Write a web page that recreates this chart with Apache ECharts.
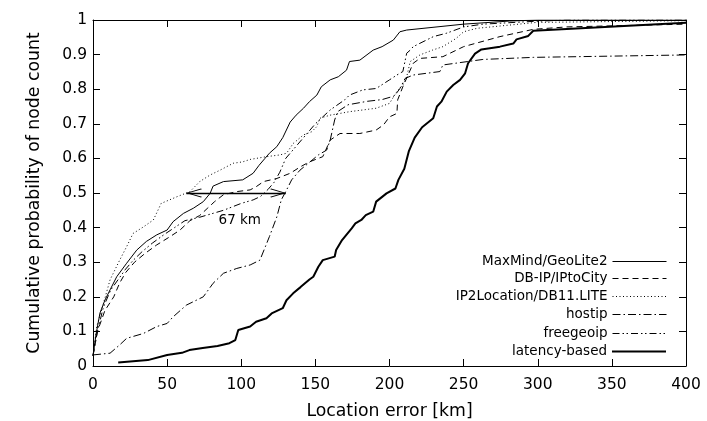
<!DOCTYPE html>
<html>
<head>
<meta charset="utf-8">
<script src="https://cdn.jsdelivr.net/npm/echarts@6/dist/echarts.min.js"></script>
<style>
  html, body { margin: 0; padding: 0; background: #fff; }
  #chart { width: 707px; height: 421px; }
</style>
</head>
<body>
<div id="chart"></div>
<script>
// CDFs of geolocation error per database: [error km, cumulative probability]
const seriesNames = ['MaxMind/GeoLite2', 'DB-IP/IPtoCity', 'IP2Location/DB11.LITE', 'hostip', 'freegeoip', 'latency-based'];

const maxmind = [[0,0.03],[2,0.09],[4.7,0.153],[8,0.19],[11.5,0.22],[16,0.258],[22.7,0.297],[29.5,0.335],[36,0.36],[43,0.379],[50,0.393],[54,0.417],[61,0.441],[67.7,0.456],[74.4,0.475],[79,0.499],[81,0.52],[88,0.533],[101,0.538],[108,0.557],[112,0.58],[116,0.6],[119,0.615],[124,0.634],[128,0.66],[133,0.705],[137,0.725],[142,0.745],[146,0.764],[151,0.783],[154,0.807],[160,0.827],[165.5,0.836],[171,0.855],[173,0.88],[180,0.884],[189,0.913],[195,0.923],[202.6,0.942],[207,0.966],[211.6,0.971],[250,0.988],[281,0.997],[300,1],[400,1]];

const dbip = [[0,0.03],[3,0.1],[8,0.16],[14,0.2],[18,0.24],[22,0.27],[28,0.3],[35,0.325],[43,0.35],[52,0.374],[58.7,0.393],[65.4,0.42],[72,0.435],[77,0.455],[82,0.475],[88,0.495],[97,0.504],[106,0.509],[110,0.518],[115,0.533],[124,0.542],[133,0.557],[140,0.576],[146,0.59],[155,0.605],[160,0.653],[166.6,0.672],[180,0.672],[191,0.682],[196,0.697],[200,0.72],[205,0.73],[205.5,0.769],[209,0.807],[216,0.875],[220.5,0.889],[236,0.894],[250,0.923],[274.5,0.952],[297,0.973],[319.5,0.98],[400,0.988]];

const ip2location = [[0,0.03],[2.5,0.114],[7,0.18],[11.5,0.249],[18,0.306],[22.7,0.345],[27,0.383],[34,0.402],[40.7,0.422],[46,0.47],[56.5,0.489],[65.4,0.504],[72,0.533],[79,0.552],[85.7,0.566],[94.6,0.586],[101,0.59],[106,0.597],[117,0.605],[126,0.61],[130.6,0.615],[135,0.643],[142,0.668],[147.5,0.677],[151,0.692],[153,0.716],[160,0.725],[166.6,0.73],[173,0.735],[191,0.745],[200,0.759],[205,0.793],[209,0.812],[211.6,0.836],[214,0.88],[220.5,0.899],[229,0.913],[236,0.923],[245,0.947],[250,0.966],[259,0.976],[299,0.993],[400,0.998]];

const hostip = [[0,0.032],[11.5,0.037],[18,0.061],[22.7,0.08],[34,0.094],[43,0.114],[50,0.123],[54,0.142],[63,0.176],[74.4,0.2],[81,0.239],[88,0.268],[97,0.282],[106,0.292],[112.6,0.306],[119,0.374],[124,0.431],[127,0.48],[130.6,0.509],[134,0.538],[139.6,0.566],[146.4,0.59],[152,0.61],[157.6,0.624],[160,0.653],[163,0.711],[165,0.735],[172,0.755],[185,0.765],[195,0.77],[203,0.78],[205,0.79],[207,0.802],[210.5,0.831],[216,0.841],[234,0.851],[236,0.87],[263,0.886],[297,0.892],[400,0.899]];

const freegeoip = [[0,0.03],[3,0.1],[7,0.17],[12,0.22],[17,0.25],[22,0.28],[27,0.305],[33,0.33],[40,0.355],[48,0.38],[55,0.4],[62,0.42],[72,0.43],[80,0.44],[88,0.45],[94,0.46],[100,0.47],[108,0.48],[113,0.49],[118,0.51],[122,0.53],[126,0.56],[130,0.6],[136,0.63],[142,0.66],[150,0.7],[160,0.74],[170,0.77],[173,0.783],[182,0.798],[191,0.802],[200,0.827],[205,0.841],[209,0.851],[211.6,0.904],[214,0.913],[216,0.923],[229.6,0.952],[238.6,0.962],[250,0.98],[263,0.988],[297,0.996],[320,1],[400,1]];

const latency = [[17,0.01],[37,0.017],[50,0.032],[60,0.038],[65,0.046],[74,0.052],[84,0.058],[92,0.066],[96,0.075],[98,0.104],[106,0.114],[110,0.128],[117,0.138],[120.5,0.152],[128,0.167],[130.5,0.19],[135,0.21],[140,0.228],[146,0.25],[148.6,0.258],[152,0.287],[155,0.306],[163,0.316],[164,0.335],[168,0.364],[174.5,0.398],[177,0.412],[181,0.422],[184,0.436],[189,0.446],[191,0.475],[198,0.499],[204,0.513],[206,0.538],[210,0.57],[213,0.62],[217,0.66],[222,0.69],[229.5,0.716],[232,0.75],[235,0.764],[238.6,0.793],[243,0.812],[247.6,0.827],[251,0.846],[253,0.875],[257.7,0.903],[262,0.915],[274.5,0.923],[283.5,0.932],[285.7,0.944],[293.6,0.954],[297,0.969],[400,0.992]];

// Annotation: gap at the median between IP2Location and hostip
const medianArrow = [[63, 0.5], [130, 0.5]];
const arrowLabel = '67 km';
const arrowLabelPos = [99, 0.42];

const xTicks = { min: 0, max: 400, step: 50 };
const yTicks = { min: 0, max: 1, step: 0.1 };

const FONT = 'DejaVu Sans';
const dashStyles = ['solid', [6, 4], [1, 2.5], [8, 3, 1.5, 3], [7, 3, 1.5, 2.5, 1.5, 3], 'solid'];
const widths = [1, 1, 1, 1, 1, 2];
const dataSets = [maxmind, dbip, ip2location, hostip, freegeoip, latency];

// open "V" head; a zero-area dot above it keeps the tip at the symbol centre
const vHead = 'path://M10,0 L10.02,0.02 L10,0.04 Z M10,18 L20,36 L18.4,37 L10,21.5 L1.6,37 L0,36 Z';

const series = dataSets.map((d, i) => ({
  name: seriesNames[i],
  type: 'line',
  data: d,
  symbol: 'none',
  animation: false,
  lineStyle: { color: '#000', width: widths[i], type: dashStyles[i] },
  itemStyle: { color: '#000' },
  z: i === 5 ? 3 : 2
}));

series.push({
  type: 'line',
  data: [],
  symbol: 'none',
  animation: false,
  markLine: {
    silent: true,
    symbol: [vHead, vHead],
    symbolSize: [9, 31],
    label: { show: false },
    lineStyle: { color: '#000', width: 1.3, type: 'solid', opacity: 1 },
    data: [[{ coord: medianArrow[0] }, { coord: medianArrow[1] }]]
  },
  markPoint: {
    silent: true,
    symbol: 'circle',
    symbolSize: 0,
    label: { show: true, formatter: arrowLabel, color: '#000', fontFamily: FONT, fontSize: 13.5, position: 'inside' },
    data: [{ coord: arrowLabelPos }]
  }
});

// one legend block per entry so text is right-aligned against its line sample
const legendCenters = [259, 276, 294, 312, 331, 349];
const legends = seriesNames.map((n, i) => ({
  data: [n],
  right: 40,
  top: legendCenters[i] - 4.5,
  orient: 'vertical',
  align: 'right',
  itemWidth: 54,
  itemHeight: 10,
  padding: 0,
  selectedMode: false,
  itemStyle: { opacity: 0, borderWidth: 0 },
  lineStyle: { width: widths[i] },
  textStyle: { fontFamily: FONT, fontSize: 13.5, color: '#000' }
}));

const axisLine = { show: true, onZero: false, lineStyle: { color: '#000', width: 1 } };
const tick = { show: true, inside: true, length: 7, lineStyle: { color: '#000', width: 1 } };

const chart = echarts.init(document.getElementById('chart'), null, { renderer: 'canvas' });
chart.setOption({
  animation: false,
  backgroundColor: '#fff',
  grid: { left: 93, right: 21, top: 20, bottom: 55, containLabel: false, outerBoundsMode: 'none' },
  legend: legends,
  xAxis: [{
    type: 'value', position: 'bottom',
    min: xTicks.min, max: xTicks.max, interval: xTicks.step,
    name: 'Location error [km]', nameLocation: 'middle', nameGap: 37,
    nameTextStyle: { fontFamily: FONT, fontSize: 17.3, color: '#000' },
    axisLine, axisTick: tick, splitLine: { show: false },
    axisLabel: { margin: 11, fontFamily: FONT, fontSize: 15.5, color: '#000' }
  }, {
    type: 'value', position: 'top',
    min: xTicks.min, max: xTicks.max, interval: xTicks.step,
    axisLine, axisTick: tick, splitLine: { show: false },
    axisLabel: { show: false }
  }],
  yAxis: [{
    type: 'value', position: 'left',
    min: yTicks.min, max: yTicks.max, interval: yTicks.step,
    name: 'Cumulative probability of node count', nameLocation: 'middle', nameGap: 50,
    nameTextStyle: { fontFamily: FONT, fontSize: 17.3, color: '#000' },
    axisLine, axisTick: tick, splitLine: { show: false },
    axisLabel: { margin: 6, fontFamily: FONT, fontSize: 15.5, color: '#000',
      formatter: v => String(Math.round(v * 10) / 10) }
  }, {
    type: 'value', position: 'right',
    min: yTicks.min, max: yTicks.max, interval: yTicks.step,
    axisLine, axisTick: tick, splitLine: { show: false },
    axisLabel: { show: false }
  }],
  series
});
</script>
</body>
</html>
